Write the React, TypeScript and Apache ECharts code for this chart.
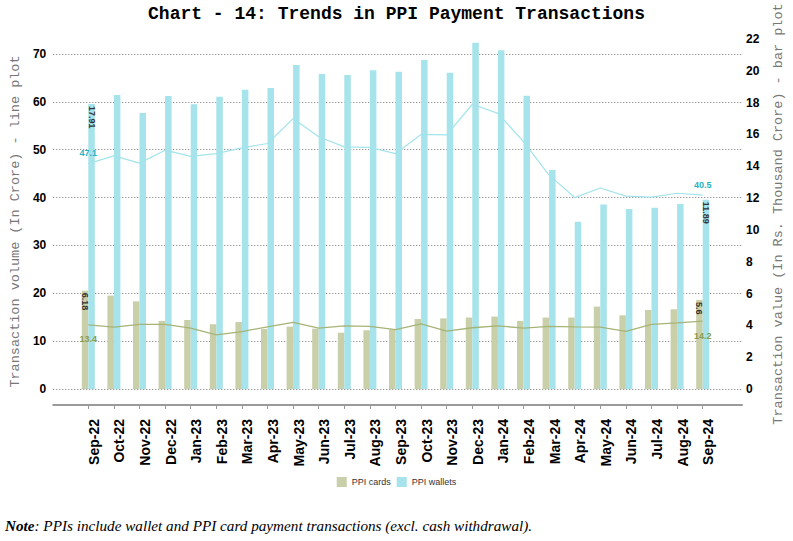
import React, { useEffect, useRef } from 'react';
import * as echarts from 'echarts';

const categories = [
  'Sep-22', 'Oct-22', 'Nov-22', 'Dec-22', 'Jan-23', 'Feb-23', 'Mar-23', 'Apr-23', 'May-23',
  'Jun-23', 'Jul-23', 'Aug-23', 'Sep-23', 'Oct-23', 'Nov-23', 'Dec-23', 'Jan-24', 'Feb-24',
  'Mar-24', 'Apr-24', 'May-24', 'Jun-24', 'Jul-24', 'Aug-24', 'Sep-24',
];

// Transaction value (Rs. thousand crore) - bars, right axis
const cardValue = [
  6.18, 5.87, 5.51, 4.28, 4.34, 4.07, 4.21, 3.77, 3.92, 3.79, 3.54, 3.69, 3.75,
  4.4, 4.44, 4.49, 4.55, 4.28, 4.49, 4.49, 5.18, 4.63, 4.97, 5.01, 5.6,
];
const walletValue = [
  17.91, 18.48, 17.35, 18.42, 17.9, 18.37, 18.81, 18.92, 20.36, 19.8, 19.74, 20.03, 19.94,
  20.68, 19.88, 21.77, 21.29, 18.44, 13.77, 10.52, 11.59, 11.31, 11.4, 11.63, 11.89,
];

// Transaction volume (crore) - lines, left axis
const cardVolume = [
  13.4, 12.95, 13.5, 13.5, 12.7, 11.3, 12.0, 13.0, 13.9, 12.7, 13.2, 13.1, 12.4,
  13.6, 12.1, 12.8, 13.2, 12.7, 13.1, 13.0, 12.95, 12.05, 13.5, 13.8, 14.2,
];
const walletVolume = [
  47.1, 48.7, 47.2, 49.9, 48.6, 49.2, 50.4, 51.3, 56.5, 52.7, 50.6, 50.5, 49.2,
  53.2, 53.1, 59.5, 57.6, 51.7, 44.7, 40.0, 42.0, 40.3, 40.1, 40.9, 40.5,
];

const leftTicks = { min: 0, max: 70, interval: 10 };
const rightTicks = { min: 0, max: 22, interval: 2 };

const COLORS = {
  cardBar: '#c8cfa9',
  walletBar: '#a6e3ea',
  cardLine: '#a6b478',
  walletLine: '#a3e4eb',
  cardLabel: '#8c9b4e',
  walletLabel: '#27b3c4',
};

const MONO = 'Liberation Mono';
const SANS = 'Liberation Sans';
const SERIF = 'Liberation Serif';

const last = categories.length - 1;
const isEnd = (i: number) => i === 0 || i === last;

function barData(values: number[]) {
  return values.map((v, i) => ({
    value: v,
    label: {
      show: isEnd(i),
      position: 'insideTop',
      rotate: -90,
      align: 'left',
      verticalAlign: 'middle',
      distance: 2,
      fontSize: 9,
      fontWeight: 'bold',
      fontFamily: SANS,
      color: '#333',
    },
  }));
}

function lineData(values: number[], pos: 'top' | 'bottom', color: string, dist: number) {
  return values.map((v, i) => ({
    value: v,
    label: {
      show: isEnd(i),
      position: pos,
      distance: dist,
      fontSize: 9,
      fontWeight: 'bold',
      fontFamily: SANS,
      color,
    },
  }));
}

export default function App() {
  const ref = useRef<HTMLDivElement>(null);

  useEffect(() => {
    document.body.style.margin = '0';
    const chart = echarts.init(ref.current!, null, { renderer: 'svg' });

    // main plot: 0 at y=389, right 22 at y=39 => left max scaled to same pixel span
    const leftMaxMain = leftTicks.max * (389 - 39) / (389 - 54);

    const option: any = {
      animation: false,
      backgroundColor: '#fff',
      title: {
        text: 'Chart - 14: Trends in PPI Payment Transactions',
        left: 'center',
        top: 0,
        textStyle: { fontFamily: MONO, fontWeight: 'bold', fontSize: 18, color: '#000' },
      },
      legend: {
        data: ['PPI cards', 'PPI wallets'],
        left: 'center',
        top: 472,
        icon: 'rect',
        itemWidth: 10,
        itemHeight: 10,
        itemGap: 6,
        textStyle: { fontFamily: SANS, fontSize: 9, color: '#333' },
      },
      grid: [
        { left: 75.5, right: 76, top: 39, bottom: 152 },
        { left: 50, right: 51, top: 54, bottom: 152 },
      ],
      xAxis: [
        {
          type: 'category',
          gridIndex: 0,
          data: categories,
          offset: 16,
          axisLine: { show: false, onZero: false },
          axisTick: { show: true, alignWithLabel: true, length: 4, lineStyle: { color: '#999' } },
          axisLabel: {
            interval: 0,
            rotate: 90,
            margin: 14,
            verticalAlign: 'top',
            lineHeight: 11,
            fontFamily: SANS,
            fontWeight: 'bold',
            fontSize: 14,
            color: '#000',
          },
          splitLine: { show: false },
        },
        {
          type: 'value',
          gridIndex: 1,
          min: 0,
          max: 1,
          offset: 16,
          axisLine: { show: true, onZero: false, lineStyle: { color: '#9a9a9a', width: 2 } },
          axisTick: { show: false },
          axisLabel: { show: false },
          splitLine: { show: false },
        },
      ],
      yAxis: [
        {
          type: 'value',
          gridIndex: 0,
          position: 'left',
          min: 0,
          max: leftMaxMain,
          show: false,
          splitLine: { show: false },
        },
        {
          type: 'value',
          gridIndex: 0,
          position: 'right',
          min: rightTicks.min,
          max: rightTicks.max,
          interval: rightTicks.interval,
          offset: 25.5,
          axisLine: { show: false },
          axisTick: { show: false },
          splitLine: { show: false },
          axisLabel: { margin: 5, fontFamily: SANS, fontWeight: 'bold', fontSize: 12, color: '#000' },
          name: 'Transaction value (In Rs. Thousand Crore) - bar plot',
          nameLocation: 'middle',
          nameRotate: 90,
          nameGap: 30,
          nameTextStyle: { fontFamily: MONO, fontSize: 13.5, color: '#777' },
        },
        {
          type: 'value',
          gridIndex: 1,
          position: 'left',
          min: leftTicks.min,
          max: leftTicks.max,
          interval: leftTicks.interval,
          axisLine: { show: false },
          axisTick: { show: false },
          axisLabel: { margin: 7, fontFamily: SANS, fontWeight: 'bold', fontSize: 12, color: '#000' },
          splitLine: { show: true, lineStyle: { color: '#777', width: 1, type: [1, 2] } },
          name: 'Transaction volume (In Crore) - line plot',
          nameLocation: 'middle',
          nameRotate: 90,
          nameGap: 25,
          nameTextStyle: { fontFamily: MONO, fontSize: 13.5, color: '#777' },
        },
      ],
      series: [
        {
          name: 'PPI cards',
          type: 'bar',
          xAxisIndex: 0,
          yAxisIndex: 1,
          barWidth: 6.5,
          barGap: '0%',
          itemStyle: { color: COLORS.cardBar },
          data: barData(cardValue),
        },
        {
          name: 'PPI wallets',
          type: 'bar',
          xAxisIndex: 0,
          yAxisIndex: 1,
          barWidth: 6.5,
          barGap: '0%',
          itemStyle: { color: COLORS.walletBar },
          data: barData(walletValue),
        },
        {
          name: 'PPI cards volume',
          type: 'line',
          xAxisIndex: 0,
          yAxisIndex: 0,
          symbol: 'circle',
          symbolSize: 0.01,
          showSymbol: true,
          showAllSymbol: true,
          lineStyle: { color: COLORS.cardLine, width: 1.3 },
          itemStyle: { color: COLORS.cardLine },
          data: lineData(cardVolume, 'bottom', COLORS.cardLabel, 10),
          z: 3,
        },
        {
          name: 'PPI wallets volume',
          type: 'line',
          xAxisIndex: 0,
          yAxisIndex: 0,
          symbol: 'circle',
          symbolSize: 0.01,
          showSymbol: true,
          showAllSymbol: true,
          lineStyle: { color: COLORS.walletLine, width: 1.2 },
          itemStyle: { color: COLORS.walletLine },
          data: lineData(walletVolume, 'top', COLORS.walletLabel, 6),
          z: 3,
        },
      ],
      graphic: [
        {
          type: 'text',
          left: 5,
          top: 518,
          style: {
            text: '{b|Note}: PPIs include wallet and PPI card payment transactions (excl. cash withdrawal).',
            fontFamily: SERIF,
            fontStyle: 'italic',
            fontSize: 15.2,
            fill: '#000',
            rich: {
              b: { fontFamily: SERIF, fontStyle: 'italic', fontWeight: 'bold', fontSize: 15.2, fill: '#000' },
            },
          },
        },
      ],
    };

    chart.setOption(option);
    return () => chart.dispose();
  }, []);

  return <div ref={ref} style={{ width: 793, height: 541 }} />;
}
